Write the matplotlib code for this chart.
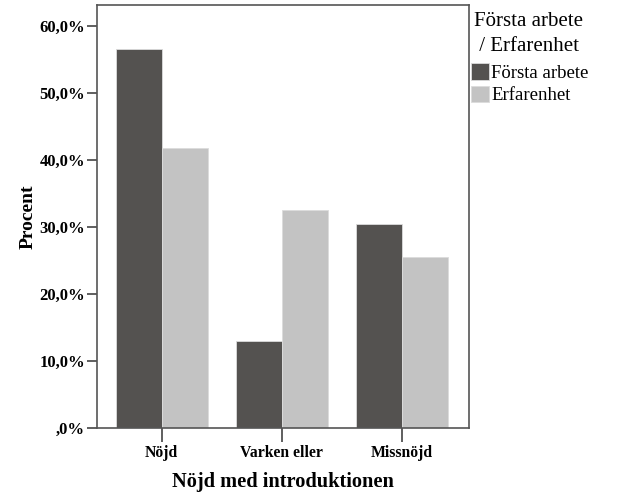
import numpy as np
import matplotlib.pyplot as plt
from matplotlib.ticker import FuncFormatter

categories = ['Nöjd', 'Varken eller', 'Missnöjd']
forsta_arbete = [56.6, 13.0, 30.4]
erfarenhet = [41.8, 32.5, 25.5]
series_names = ['Första arbete', 'Erfarenhet']
legend_title = 'Första arbete\n / Erfarenhet'

plt.rcParams['font.family'] = ['Liberation Serif', 'DejaVu Serif']

W, H = 626, 501
fig = plt.figure(figsize=(W / 100, H / 100), dpi=100)
ax = fig.add_axes([0.155, 0.1457, 0.594, 0.8443])

x = np.arange(len(categories))
w = 0.383
ax.bar(x - w / 2, forsta_arbete, w, color='#545250', edgecolor='#dcdcdc',
       linewidth=0.6, label=series_names[0])
ax.bar(x + w / 2, erfarenhet, w, color='#c3c3c3', edgecolor='#dcdcdc',
       linewidth=0.6, label=series_names[1])

ax.set_xlim(-0.54, 2.56)
ax.set_ylim(0, 63.1)
ax.set_yticks(np.arange(0, 61, 10))

def pct(v, pos):
    s = '%.1f%%' % v
    s = s.replace('.', ',')
    if s.startswith('0,'):
        s = s[1:]
    return s

ax.yaxis.set_major_formatter(FuncFormatter(pct))
ax.set_xticks(x)
ax.set_xticklabels(categories)

for lab in ax.get_yticklabels():
    lab.set_fontweight('bold')
    lab.set_fontsize(12)
for lab in ax.get_xticklabels():
    lab.set_fontweight('bold')
    lab.set_fontsize(11.3)

ax.tick_params(axis='y', length=7.5, width=1.2, color='#444444', pad=1)
ax.tick_params(axis='x', length=10, width=1.2, color='#444444', pad=2)
for sp in ax.spines.values():
    sp.set_color('#555555')
    sp.set_linewidth(1.2)

ax.set_ylabel('Procent', fontsize=14, fontweight='bold', labelpad=2)
ax.set_xlabel('Nöjd med introduktionen', fontsize=14.7, fontweight='bold', labelpad=8)

# legend title drawn separately (it sits right of the handles in the original)
fig.text(474 / W, 1 - 12 / H, legend_title, ha='left', va='top',
         fontsize=15, linespacing=1.4)
ax.legend(loc='upper left', bbox_to_anchor=(471 / W, 1 - 63 / H),
          bbox_transform=fig.transFigure, frameon=False, fontsize=13.5,
          handlelength=0.96, handleheight=1.0, handletextpad=0.12,
          labelspacing=0.2, borderaxespad=0, borderpad=0)

fig.savefig('out.png', dpi=100)
